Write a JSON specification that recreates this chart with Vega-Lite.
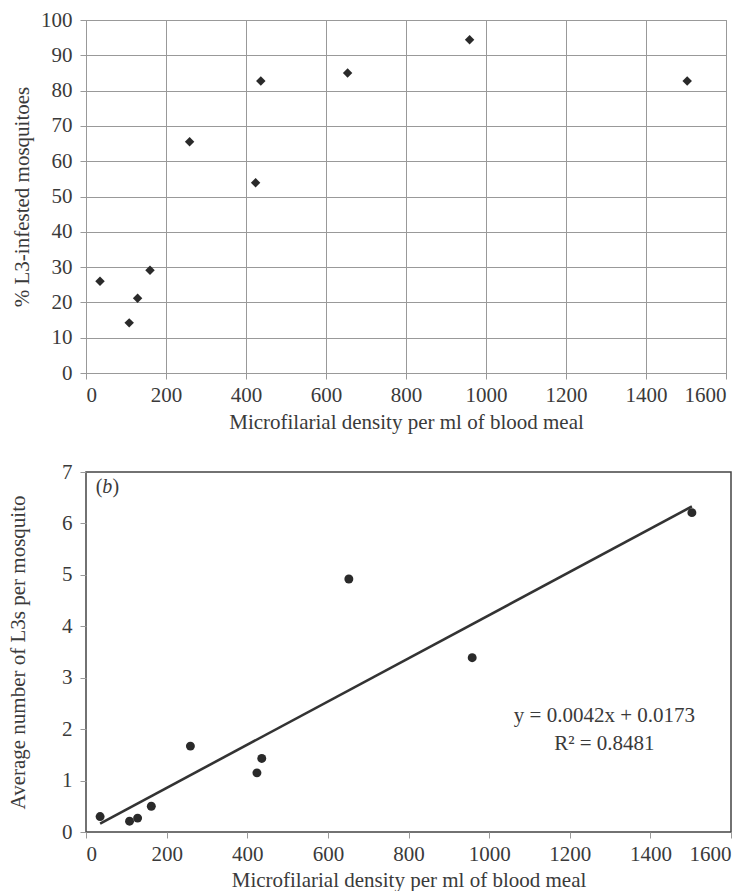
{
  "$schema": "https://vega.github.io/schema/vega-lite/v6.json",
  "background": "white",
  "padding": {"left": 6, "top": 8, "right": 4, "bottom": 0},
  "config": {
    "font": "Liberation Serif",
    "axis": {
      "labelFont": "Liberation Serif", "titleFont": "Liberation Serif",
      "labelFontSize": 21, "titleFontSize": 21, "titleFontWeight": "normal",
      "labelColor": "#3a3a3a", "titleColor": "#3a3a3a",
      "gridColor": "#999", "gridOpacity": 1, "gridWidth": 1,
      "tickColor": "#999", "tickSize": 6, "domain": false, "labelPadding": 5
    },
    "concat": {"spacing": 27}
  },
  "datasets": {
    "pct": [
      {"mf": 35, "pct": 26.0}, {"mf": 108, "pct": 14.2}, {"mf": 129, "pct": 21.2},
      {"mf": 160, "pct": 29.1}, {"mf": 259, "pct": 65.5}, {"mf": 424, "pct": 53.9},
      {"mf": 437, "pct": 82.7}, {"mf": 654, "pct": 85.0}, {"mf": 959, "pct": 94.4},
      {"mf": 1503, "pct": 82.7}
    ],
    "avg": [
      {"mf": 35, "avg": 0.30}, {"mf": 108, "avg": 0.21}, {"mf": 128, "avg": 0.27},
      {"mf": 162, "avg": 0.50}, {"mf": 259, "avg": 1.67}, {"mf": 424, "avg": 1.15},
      {"mf": 436, "avg": 1.43}, {"mf": 652, "avg": 4.92}, {"mf": 958, "avg": 3.39},
      {"mf": 1503, "avg": 6.21}
    ],
    "trend": [
      {"mf": 35, "avg": 0.164}, {"mf": 1503, "avg": 6.33}
    ],
    "eq": [{"label": "y = 0.0042x + 0.0173"}],
    "r2": [{"label": "R² = 0.8481"}],
    "po": [{"label": "("}],
    "pb": [{"label": "b"}],
    "pc": [{"label": ")"}]
  },
  "vconcat": [
    {
      "width": 640, "height": 353,
      "view": {"stroke": "#888", "strokeWidth": 1},
      "data": {"name": "pct"},
      "mark": {"type": "point", "shape": "diamond", "filled": true, "color": "#2a2a2a", "size": 90, "opacity": 1},
      "encoding": {
        "x": {"field": "mf", "type": "quantitative", "scale": {"domain": [0, 1600], "nice": false},
              "axis": {"values": [0,200,400,600,800,1000,1200,1400,1600], "format": "d", "title": "Microfilarial density per ml of blood meal", "titlePadding": 6}},
        "y": {"field": "pct", "type": "quantitative", "scale": {"domain": [0, 100], "nice": false},
              "axis": {"values": [0,10,20,30,40,50,60,70,80,90,100], "format": "d", "title": "% L3-infested mosquitoes", "titlePadding": 8, "labelPadding": 8}}
      }
    },
    {
      "width": 645, "height": 360,
      "view": {"stroke": "#444", "strokeWidth": 1.5},
      "layer": [
        {
          "data": {"name": "eq"},
          "mark": {"type": "rect", "color": "white"},
          "encoding": {
            "x": {"datum": 1042, "type": "quantitative"}, "x2": {"datum": 1530},
            "y": {"datum": 1.17, "type": "quantitative"}, "y2": {"datum": 2.8}
          }
        },
        {
          "data": {"name": "trend"},
          "mark": {"type": "line", "color": "#333", "strokeWidth": 2.6},
          "encoding": {
            "x": {"field": "mf", "type": "quantitative"},
            "y": {"field": "avg", "type": "quantitative"}
          }
        },
        {
          "data": {"name": "avg"},
          "mark": {"type": "circle", "color": "#2a2a2a", "size": 80, "opacity": 1},
          "encoding": {
            "x": {"field": "mf", "type": "quantitative", "scale": {"domain": [0, 1600], "nice": false},
                  "axis": {"values": [0,200,400,600,800,1000,1200,1400,1600], "format": "d", "title": "Microfilarial density per ml of blood meal", "titlePadding": 5}},
            "y": {"field": "avg", "type": "quantitative", "scale": {"domain": [0, 7], "nice": false},
                  "axis": {"values": [0,1,2,3,4,5,6,7], "format": "d", "title": "Average number of L3s per mosquito", "titlePadding": 33, "labelPadding": 8}}
          }
        },
        {
          "data": {"name": "eq"},
          "mark": {"type": "text", "font": "Liberation Serif", "fontSize": 21, "color": "#3a3a3a", "baseline": "middle"},
          "encoding": {"x": {"datum": 1286, "type": "quantitative"}, "y": {"datum": 2.25, "type": "quantitative"}, "text": {"field": "label"}}
        },
        {
          "data": {"name": "r2"},
          "mark": {"type": "text", "font": "Liberation Serif", "fontSize": 21, "color": "#3a3a3a", "baseline": "middle"},
          "encoding": {"x": {"datum": 1286, "type": "quantitative"}, "y": {"datum": 1.72, "type": "quantitative"}, "text": {"field": "label"}}
        },
        {
          "data": {"name": "po"},
          "mark": {"type": "text", "font": "Liberation Serif", "fontSize": 20, "color": "#3a3a3a", "baseline": "middle", "align": "left"},
          "encoding": {"x": {"datum": 24, "type": "quantitative"}, "y": {"datum": 6.7, "type": "quantitative"}, "text": {"field": "label"}}
        },
        {
          "data": {"name": "pb"},
          "mark": {"type": "text", "font": "Liberation Serif", "fontSize": 20, "fontStyle": "italic", "color": "#3a3a3a", "baseline": "middle", "align": "left"},
          "encoding": {"x": {"datum": 40, "type": "quantitative"}, "y": {"datum": 6.7, "type": "quantitative"}, "text": {"field": "label"}}
        },
        {
          "data": {"name": "pc"},
          "mark": {"type": "text", "font": "Liberation Serif", "fontSize": 20, "color": "#3a3a3a", "baseline": "middle", "align": "left"},
          "encoding": {"x": {"datum": 66, "type": "quantitative"}, "y": {"datum": 6.7, "type": "quantitative"}, "text": {"field": "label"}}
        }
      ]
    }
  ]
}
